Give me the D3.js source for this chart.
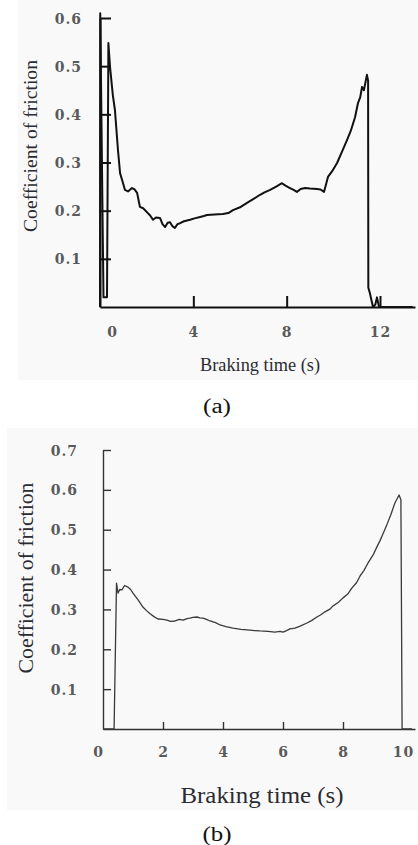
<!DOCTYPE html>
<html>
<head>
<meta charset="utf-8">
<script src="https://cdn.jsdelivr.net/npm/d3@7/dist/d3.min.js"></script>
<style>
  html, body { margin: 0; padding: 0; background: #ffffff; }
  svg { display: block; }
  .tick-label { font-family: "DejaVu Serif", serif; font-weight: bold; font-size: 14px; fill: #5a5a5a; letter-spacing: 1px; }
  .title { font-family: "Liberation Serif", "Times New Roman", serif; fill: #2b2b33; }
  .caption { font-family: "Liberation Serif", "Times New Roman", serif; fill: #111; }
</style>
</head>
<body>
<script>
// ---- Panel (a): friction coefficient vs braking time ----
const timeA = [0, 0.01, 0.15, 0.3, 0.36, 0.43, 0.55, 0.64, 0.77, 0.86, 0.97, 1.07, 1.2, 1.37, 1.48, 1.59,
  1.71, 1.85, 2.01, 2.15, 2.27, 2.4, 2.57, 2.68, 2.79, 2.9, 3.0, 3.1, 3.21, 3.32, 3.43, 3.6, 3.86, 4.05, 4.29,
  4.45, 4.59, 4.9, 5.27, 5.5, 5.7, 6.0, 6.3, 6.6, 6.86, 7.05, 7.29, 7.55, 7.8, 7.95, 8.14, 8.3, 8.44, 8.6, 8.79,
  9.0, 9.3, 9.45, 9.6, 9.77, 9.95, 10.16, 10.35, 10.59, 10.75, 10.93, 11.06, 11.15, 11.23, 11.31, 11.44, 11.49,
  11.5, 11.56, 11.7, 11.8, 11.87, 11.96, 12.3, 13.4];
const cofA = [0, 0.61, 0.02, 0.02, 0.548, 0.498, 0.44, 0.409, 0.326, 0.278, 0.26, 0.243, 0.24, 0.247, 0.244, 0.237,
  0.208, 0.205, 0.197, 0.19, 0.181, 0.186, 0.185, 0.172, 0.166, 0.175, 0.176, 0.168, 0.164, 0.172, 0.174, 0.178, 0.181, 0.184, 0.187,
  0.189, 0.191, 0.192, 0.193, 0.195, 0.201, 0.207, 0.216, 0.225, 0.233, 0.238, 0.243, 0.25, 0.257, 0.252, 0.247, 0.243, 0.239, 0.245, 0.247,
  0.246, 0.245, 0.244, 0.239, 0.27, 0.282, 0.299, 0.32, 0.347, 0.366, 0.394, 0.424, 0.435, 0.457, 0.45, 0.482, 0.47,
  0.04, 0.03, 0, 0.005, 0.02, 0, 0, 0];
const xTicksA = [0, 4, 8, 12];
const yTicksA = [0.1, 0.2, 0.3, 0.4, 0.5, 0.6];

// ---- Panel (b): friction coefficient vs braking time ----
const timeB = [0, 0.2, 0.37, 0.45, 0.5, 0.56, 0.63, 0.72, 0.83, 0.92, 1.0, 1.17, 1.33, 1.45, 1.57, 1.7, 1.83, 2.0, 2.13,
  2.25, 2.4, 2.55, 2.67, 2.8, 2.9, 3.0, 3.13, 3.23, 3.33, 3.45, 3.57, 3.75, 3.9, 4.1, 4.33, 4.6, 4.9, 5.05, 5.23, 5.5,
  5.73, 5.9, 6.0, 6.12, 6.23, 6.4, 6.57, 6.8, 6.95, 7.13, 7.25, 7.4, 7.55, 7.67, 7.85, 8.0, 8.15, 8.3, 8.45, 8.57,
  8.7, 8.83, 9.0, 9.13, 9.23, 9.33, 9.47, 9.6, 9.73, 9.87, 9.93, 9.97, 10.3];
const cofB = [0, 0, 0, 0.366, 0.341, 0.35, 0.349, 0.36, 0.356, 0.35, 0.341, 0.324, 0.306, 0.297, 0.289, 0.282, 0.276, 0.275, 0.273,
  0.27, 0.271, 0.275, 0.273, 0.277, 0.278, 0.28, 0.281, 0.279, 0.278, 0.275, 0.271, 0.267, 0.261, 0.257, 0.253, 0.25, 0.248, 0.247, 0.246, 0.245,
  0.243, 0.245, 0.243, 0.247, 0.251, 0.253, 0.258, 0.266, 0.272, 0.281, 0.286, 0.294, 0.3, 0.309, 0.318, 0.329, 0.338, 0.354, 0.367, 0.384,
  0.398, 0.416, 0.436, 0.457, 0.472, 0.489, 0.514, 0.539, 0.567, 0.587, 0.575, 0, 0];
const xTicksB = [0, 2, 4, 6, 8, 10];
const yTicksB = [0.1, 0.2, 0.3, 0.4, 0.5, 0.6, 0.7];

const W = 418, H = 845;
const svg = d3.select("body").append("svg").attr("width", W).attr("height", H);

// faint paper tone behind each plot
svg.append("rect").attr("x", 18).attr("y", 0).attr("width", W - 18).attr("height", 380).attr("fill", "#f9f9f9");
svg.append("rect").attr("x", 7).attr("y", 428).attr("width", W - 7).attr("height", 382).attr("fill", "#f9f9f9");

function drawPanel(opt) {
  const g = svg.append("g");
  const x = d3.scaleLinear().domain(opt.xDomain).range(opt.xRange);
  const y = d3.scaleLinear().domain(opt.yDomain).range(opt.yRange);

  // y axis, ticks pointing into the plot
  const yAxis = g.append("g")
    .attr("transform", `translate(${x(0)},0)`)
    .call(d3.axisLeft(y).tickValues(opt.yTicks).tickSizeInner(-opt.yTickLen).tickSizeOuter(0)
      .tickPadding(opt.yPad).tickFormat(d3.format(".1f")));
  yAxis.select(".domain").attr("stroke", opt.axisColor).attr("stroke-width", opt.axisWidth);
  yAxis.selectAll(".tick line").attr("stroke", opt.axisColor).attr("stroke-width", opt.axisWidth);
  yAxis.selectAll(".tick text").attr("class", "tick-label").attr("dy", "0.36em");

  // x axis, ticks pointing up
  const xAxis = g.append("g")
    .attr("transform", `translate(0,${y(0)})`)
    .call(d3.axisBottom(x).tickValues(opt.xTicks).tickSizeInner(-opt.xTickLen).tickSizeOuter(0)
      .tickPadding(opt.xPad).tickFormat(d3.format("d")));
  xAxis.select(".domain").attr("stroke", opt.axisColor).attr("stroke-width", opt.axisWidth);
  xAxis.selectAll(".tick line").attr("stroke", opt.axisColor).attr("stroke-width", opt.axisWidth)
    .attr("display", d => opt.xTickMarks.includes(d) ? null : "none");
  xAxis.selectAll(".tick text").attr("class", "tick-label").attr("dy", "0.36em");
  if (opt.zeroLabelShift) xAxis.selectAll(".tick text").filter(d => d === 0).attr("dx", opt.zeroLabelShift);

  // friction curve
  const pts = opt.t.map((t, i) => [t, opt.v[i]]);
  g.append("path")
    .datum(pts)
    .attr("fill", "none")
    .attr("stroke", opt.lineColor)
    .attr("stroke-width", opt.lineWidth)
    .attr("stroke-linejoin", "round")
    .attr("d", d3.line().x(d => x(d[0])).y(d => y(d[1])));

  // axis titles and caption
  g.append("text").attr("class", "title")
    .attr("transform", `translate(${opt.yTitle.x},${opt.yTitle.y}) rotate(-90)`)
    .attr("text-anchor", "middle")
    .attr("font-size", opt.yTitle.size)
    .attr("textLength", opt.yTitle.len).attr("lengthAdjust", "spacingAndGlyphs")
    .text("Coefficient of friction");
  g.append("text").attr("class", "title")
    .attr("x", opt.xTitle.x).attr("y", opt.xTitle.y)
    .attr("text-anchor", "middle")
    .attr("font-size", opt.xTitle.size)
    .attr("textLength", opt.xTitle.len).attr("lengthAdjust", "spacingAndGlyphs")
    .text("Braking time (s)");
  g.append("text").attr("class", "caption")
    .attr("x", opt.caption.x).attr("y", opt.caption.y)
    .attr("text-anchor", "middle")
    .attr("font-size", opt.caption.size)
    .attr("textLength", opt.caption.len).attr("lengthAdjust", "spacingAndGlyphs")
    .text(opt.caption.text);
}

drawPanel({
  t: timeA, v: cofA,
  xDomain: [0, 13.5], xRange: [100, 415],
  yDomain: [0, 0.6], yRange: [307, 18],
  xTicks: xTicksA, xTickMarks: [4, 8, 12], yTicks: yTicksA,
  yTickLen: 11, xTickLen: 11, yPad: 18, xPad: 25, zeroLabelShift: 12,
  axisColor: "#111", axisWidth: 2,
  lineColor: "#111", lineWidth: 2,
  yTitle: { x: 37, y: 146, size: 19, len: 172 },
  xTitle: { x: 260, y: 371, size: 18, len: 120 },
  caption: { x: 217, y: 413, size: 20, len: 28, text: "(a)" }
});

drawPanel({
  t: timeB, v: cofB,
  xDomain: [0, 10.4], xRange: [103, 415],
  yDomain: [0, 0.7], yRange: [729, 450],
  xTicks: xTicksB, xTickMarks: [2, 4, 6, 8], yTicks: yTicksB,
  yTickLen: 8, xTickLen: 7, yPad: 25, xPad: 23, zeroLabelShift: -5,
  axisColor: "#333", axisWidth: 1.4,
  lineColor: "#3a3a3a", lineWidth: 1.3,
  yTitle: { x: 33, y: 578, size: 22, len: 191 },
  xTitle: { x: 262, y: 803, size: 24, len: 163 },
  caption: { x: 217, y: 841, size: 20, len: 29, text: "(b)" }
});
</script>
</body>
</html>
